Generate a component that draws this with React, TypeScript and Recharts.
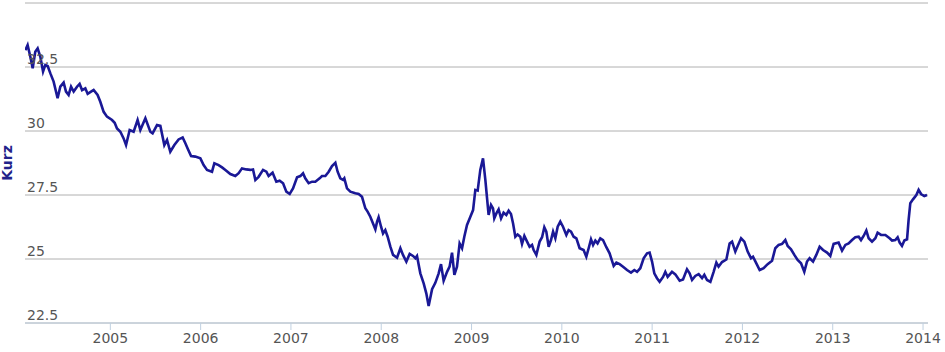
import { LineChart, Line, XAxis, YAxis, CartesianGrid } from "recharts";

// decimal year of each weekly-ish observation
const dates = [
  2004.059, 2004.084, 2004.114, 2004.14, 2004.169, 2004.195, 2004.225, 2004.255, 2004.28, 2004.306,
  2004.336, 2004.372, 2004.416, 2004.446, 2004.483, 2004.509, 2004.538, 2004.565, 2004.594, 2004.631,
  2004.66, 2004.687, 2004.723, 2004.749, 2004.786, 2004.815, 2004.859, 2004.889, 2004.926, 2004.963,
  2005.019, 2005.048, 2005.074, 2005.111, 2005.147, 2005.174, 2005.214, 2005.258, 2005.302, 2005.332,
  2005.388, 2005.443, 2005.468, 2005.517, 2005.554, 2005.598, 2005.628, 2005.664, 2005.709, 2005.756,
  2005.801, 2005.831, 2005.856, 2005.894, 2005.941, 2005.997,
  2006.033, 2006.071, 2006.126, 2006.152, 2006.199, 2006.237, 2006.274, 2006.329, 2006.384, 2006.421,
  2006.458, 2006.506, 2006.55, 2006.58, 2006.606, 2006.642, 2006.691, 2006.728, 2006.753, 2006.797,
  2006.838, 2006.875, 2006.913, 2006.949, 2006.986,
  2007.023, 2007.068, 2007.104, 2007.134, 2007.159, 2007.196, 2007.234, 2007.27, 2007.318, 2007.344,
  2007.381, 2007.418, 2007.455, 2007.492, 2007.517, 2007.547, 2007.577, 2007.591, 2007.621, 2007.658,
  2007.713, 2007.75, 2007.787, 2007.824, 2007.849, 2007.879, 2007.909, 2007.935, 2007.954, 2007.971,
  2007.998,
  2008.02, 2008.045, 2008.071, 2008.101, 2008.131, 2008.175, 2008.212, 2008.241, 2008.278, 2008.315,
  2008.352, 2008.378, 2008.396, 2008.433, 2008.47, 2008.499, 2008.525, 2008.563, 2008.599, 2008.636,
  2008.662, 2008.691, 2008.729, 2008.757, 2008.784, 2008.81, 2008.839, 2008.868, 2008.895, 2008.92,
  2008.95, 2008.987,
  2009.017, 2009.042, 2009.068, 2009.097, 2009.127, 2009.153, 2009.172, 2009.189, 2009.216, 2009.238,
  2009.252, 2009.275, 2009.3, 2009.327, 2009.355, 2009.385, 2009.411, 2009.437, 2009.46, 2009.485,
  2009.51, 2009.54, 2009.559, 2009.585, 2009.615, 2009.643, 2009.67, 2009.688, 2009.718, 2009.754,
  2009.781, 2009.806, 2009.828, 2009.854, 2009.88, 2009.903, 2009.928, 2009.954, 2009.983,
  2010.013, 2010.05, 2010.075, 2010.102, 2010.131, 2010.161, 2010.197, 2010.241, 2010.271, 2010.297,
  2010.323, 2010.346, 2010.371, 2010.396, 2010.426, 2010.456, 2010.493, 2010.529, 2010.574, 2010.604,
  2010.64, 2010.678, 2010.722, 2010.766, 2010.803, 2010.833, 2010.869, 2010.906, 2010.944, 2010.972,
  2010.999,
  2011.024, 2011.054, 2011.083, 2011.121, 2011.146, 2011.172, 2011.22, 2011.257, 2011.305, 2011.342,
  2011.386, 2011.415, 2011.442, 2011.478, 2011.515, 2011.553, 2011.578, 2011.608, 2011.645, 2011.681,
  2011.711, 2011.736, 2011.774, 2011.822, 2011.858, 2011.885, 2011.921, 2011.947, 2011.985,
  2012.021, 2012.058, 2012.095, 2012.117, 2012.154, 2012.191, 2012.235, 2012.279, 2012.328, 2012.364,
  2012.401, 2012.439, 2012.475, 2012.501, 2012.538, 2012.575, 2012.611, 2012.649, 2012.685, 2012.715,
  2012.744, 2012.782, 2012.818, 2012.855, 2012.893, 2012.937, 2012.973,
  2013.01, 2013.065, 2013.103, 2013.14, 2013.176, 2013.214, 2013.25, 2013.287, 2013.313, 2013.342,
  2013.372, 2013.398, 2013.435, 2013.472, 2013.497, 2013.535, 2013.583, 2013.63, 2013.657, 2013.693,
  2013.719, 2013.741, 2013.767, 2013.793, 2013.823, 2013.84, 2013.859, 2013.889, 2013.926, 2013.951,
  2013.978, 2014.014, 2014.044,
];

// CZK rate at each date
const rates = [
  33.16, 33.36, 32.9, 32.45, 33.1, 33.23, 32.9, 32.32, 32.58, 32.54,
  32.25, 31.93, 31.28, 31.73, 31.89, 31.54, 31.41, 31.73, 31.54, 31.73,
  31.84, 31.6, 31.67, 31.45, 31.54, 31.6, 31.41, 31.14, 30.75, 30.56,
  30.43, 30.32, 30.1, 29.97, 29.71, 29.45, 30.04, 29.97, 30.43, 30.04,
  30.5, 29.97, 29.91, 30.23, 30.2, 29.45, 29.65, 29.19, 29.45, 29.67,
  29.75, 29.52, 29.32, 29.02, 29.0, 28.93,
  28.67, 28.48, 28.41, 28.74, 28.67, 28.58, 28.48, 28.32, 28.24, 28.35,
  28.54, 28.5, 28.48, 28.5, 28.09, 28.21, 28.48, 28.41, 28.24, 28.37,
  28.02, 28.06, 27.96, 27.63, 27.54,
  27.76, 28.19, 28.24, 28.35, 28.15, 27.96, 28.02, 28.02, 28.15, 28.24,
  28.24, 28.41, 28.63, 28.76, 28.41, 28.15, 28.09, 28.15, 27.76, 27.63,
  27.57, 27.54, 27.43, 26.98, 26.85, 26.65, 26.39, 26.16, 26.46, 26.63,
  26.26,
  26.0, 26.13, 25.87, 25.48, 25.16, 25.05, 25.42, 25.16, 24.9, 25.2,
  25.12, 25.03, 25.12, 24.44, 24.05, 23.66, 23.16, 23.82, 24.07, 24.44,
  24.8, 24.15, 24.5, 24.7, 25.25, 24.38, 24.7, 25.61, 25.42, 25.87,
  26.33, 26.65,
  26.91, 27.7, 27.67, 28.48, 28.93, 28.09, 27.37, 26.72, 27.11, 26.98,
  26.59, 26.78, 26.94, 26.59, 26.81, 26.72, 26.89, 26.76, 26.39, 25.87,
  25.96, 25.87, 25.59, 25.9, 25.68, 25.48, 25.55, 25.35, 25.16, 25.68,
  25.85, 26.24, 26.07, 25.48, 25.74, 26.07, 25.81, 26.26, 26.46,
  26.26, 25.94, 26.13, 26.07, 25.87, 25.81, 25.42, 25.35, 25.09, 25.42,
  25.77, 25.55, 25.72, 25.61, 25.81, 25.74, 25.46, 25.22, 24.73, 24.86,
  24.8, 24.7, 24.57, 24.47, 24.57, 24.5, 24.64, 25.03, 25.22, 25.25,
  24.9,
  24.44, 24.25, 24.11, 24.3, 24.5, 24.3, 24.5, 24.4, 24.15, 24.2,
  24.6, 24.44, 24.18, 24.34, 24.41, 24.25, 24.38, 24.18, 24.11, 24.5,
  24.86, 24.7, 24.88, 24.98, 25.61, 25.68, 25.29, 25.51, 25.81,
  25.68, 25.29, 25.03, 25.09, 24.83, 24.57, 24.64, 24.8, 24.93, 25.42,
  25.55, 25.59, 25.74, 25.51, 25.38, 25.16, 24.96, 24.83, 24.5, 24.9,
  25.03, 24.9, 25.16, 25.48, 25.35, 25.25, 25.12,
  25.59, 25.64, 25.33, 25.55, 25.61, 25.74, 25.85, 25.87, 25.74, 25.9,
  26.11, 25.81, 25.68, 25.81, 26.03, 25.94, 25.94, 25.81, 25.72, 25.74,
  25.85, 25.64, 25.51, 25.72, 25.77, 26.52, 27.18, 27.33, 27.5, 27.7,
  27.54, 27.46, 27.5,
];

const xTicks = [2005, 2006, 2007, 2008, 2009, 2010, 2011, 2012, 2013, 2014];
const yTicks = [22.5, 25, 27.5, 30, 32.5, 35];

const data = dates.map((t, i) => ({ t, v: rates[i] }));

const FONT = "'DejaVu Sans', Verdana, sans-serif";

// labels sit inside the plot, just above their grid line; the top one is hidden
const YTick = (props: any) => {
  const { x, y, payload } = props;
  if (payload.value === 35) return <g />;
  return (
    <text x={x + 2} y={y - 3} textAnchor="start" fontSize={14} fill="#555" fontFamily={FONT}>
      {String(payload.value)}
    </text>
  );
};

export default function App() {
  return (
    <div style={{ position: "absolute", left: 0, top: 0 }}>
      <LineChart
        width={945}
        height={352}
        data={data}
        margin={{ top: 3, right: 17, bottom: 0, left: 24 }}
        style={{ fontFamily: FONT }}
      >
        <CartesianGrid vertical={false} stroke="#b0b0b0" />
        <XAxis
          dataKey="t"
          type="number"
          domain={[2004.055, 2014.055]}
          allowDataOverflow
          ticks={xTicks}
          interval={0}
          tickFormatter={(v) => String(v)}
          height={29}
          tickSize={7}
          tickMargin={3}
          axisLine={{ stroke: "#C0D0E0" }}
          tickLine={{ stroke: "#C0D0E0" }}
          tick={{ fontSize: 14, fill: "#555" }}
        />
        <YAxis
          domain={[22.5, 35]}
          ticks={yTicks}
          interval={0}
          width={1}
          axisLine={false}
          tickLine={false}
          tickSize={0}
          tickMargin={0}
          tick={YTick}
          label={{
            value: "Kurz",
            angle: -90,
            position: "insideLeft",
            offset: -17,
            style: { textAnchor: "middle", fill: "#22228a", fontWeight: "bold", fontSize: 14 },
          }}
        />
        <Line
          type="linear"
          dataKey="v"
          stroke="#1a1896"
          strokeWidth={2.6}
          dot={false}
          isAnimationActive={false}
        />
      </LineChart>
    </div>
  );
}
